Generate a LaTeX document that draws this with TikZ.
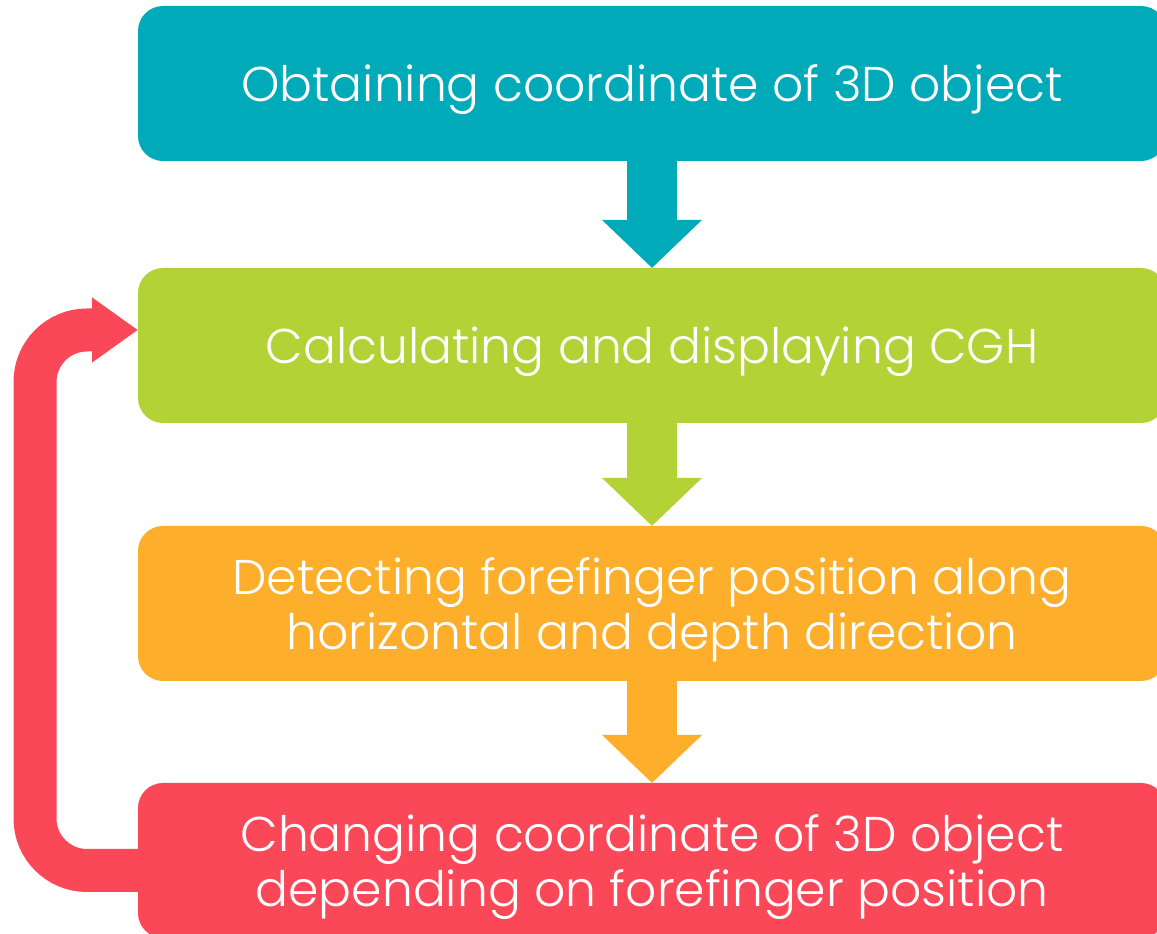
\documentclass[tikz,border=0pt]{standalone}
\usepackage{fontspec}
\setmainfont{Poppins Light}
\usepackage{tikz}
\usetikzlibrary{arrows.meta,positioning}

\definecolor{stepteal}{RGB}{0,170,185}
\definecolor{steplime}{RGB}{179,210,53}
\definecolor{steporange}{RGB}{253,174,43}
\definecolor{stepred}{RGB}{251,72,88}

\begin{document}
\begin{tikzpicture}[x=1pt, y=1pt]
	\tikzstyle{stage}
	  =[rectangle, rounded corners=25pt, minimum width=1028pt,
	  minimum height=155pt, inner sep=0pt, outer sep=0pt, text=white,
	  align=center, text depth=0pt, font=\fontsize{48.8}{55}\selectfont]
	\tikzstyle{flow}
	  =[line width=50pt, -{Triangle[width=97pt, length=48pt]}]
	\tikzstyle{feedback}
	  =[line width=43pt, rounded corners=52pt,
	  -{Triangle[width=62pt, length=46pt]}]

	\useasboundingbox (0,0) rectangle (1157,934);

	\node[stage, fill=stepteal] (obtain)
	  at (652,850.5) {Obtaining coordinate of 3D object};
	\node[stage, fill=steplime] (calc)
	  [below=107pt of obtain] {Calculating and displaying CGH};
	\node[stage, fill=steporange] (detect)
	  [below=103pt of calc] {Detecting forefinger position along\\horizontal and depth direction};
	\node[stage, fill=stepred] (change)
	  [below=102pt of detect] {Changing coordinate of 3D object\\depending on forefinger position};

	% arrows between the stages
	\draw[flow, stepteal] (obtain.south) -- (calc.north);
	\draw[flow, steplime] (calc.south) -- (detect.north);
	\draw[flow, steporange] (detect.south) -- (change.north);

	% loop back to the CGH stage
	\draw[feedback, stepred] ([xshift=10pt, yshift=-10pt]change.west)
	  -- ++(-113pt,0) |- ([yshift=15.5pt]calc.west);
\end{tikzpicture}
\end{document}
